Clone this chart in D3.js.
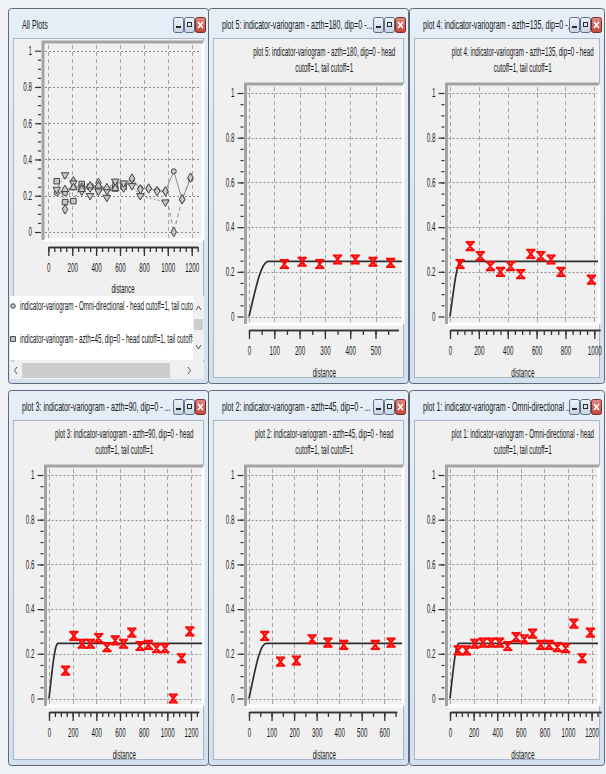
<!DOCTYPE html>
<html>
<head>
<meta charset="utf-8">
<script src="https://cdn.jsdelivr.net/npm/d3@7"></script>
<style>
  html, body { margin: 0; padding: 0; background: #eef1f5; }
  svg { display: block; font-family: "Liberation Sans", Arial, sans-serif; }
</style>
</head>
<body>
<svg id="chart" width="606" height="774"></svg>
<script>
// experimental indicator variograms: lag distance / gamma, one pair per direction
const lagOmni = [70, 140, 210, 280, 350, 420, 490, 560, 630, 700, 770, 840, 910, 980, 1050, 1120, 1190];
const gamOmni = [0.215, 0.215, 0.245, 0.25, 0.25, 0.25, 0.235, 0.275, 0.265, 0.29, 0.24, 0.24, 0.23, 0.225, 0.335, 0.18, 0.295];
const lag45 = [70, 140, 210, 280, 350, 420, 560, 630];
const gam45 = [0.28, 0.165, 0.17, 0.265, 0.25, 0.24, 0.24, 0.25];
const lag90 = [140, 210, 280, 350, 420, 490, 560, 630, 700, 770, 840, 910, 980, 1050, 1120, 1190];
const gam90 = [0.125, 0.28, 0.245, 0.245, 0.27, 0.23, 0.26, 0.245, 0.295, 0.235, 0.24, 0.225, 0.225, 0.0, 0.18, 0.3];
const lag135 = [70, 140, 210, 280, 350, 420, 490, 560, 630, 700, 770, 980];
const gam135 = [0.235, 0.315, 0.27, 0.225, 0.2, 0.225, 0.19, 0.28, 0.27, 0.255, 0.2, 0.165];
const lag180 = [140, 210, 280, 350, 420, 490, 560];
const gam180 = [0.235, 0.245, 0.235, 0.255, 0.255, 0.245, 0.24];

// fitted model (the flat part carries on to the right edge)
const modelLag = [0, 20, 40, 60, 75];
const modelGam = [0, 0.095, 0.18, 0.233, 0.247];

const yTicks = [0, 0.2, 0.4, 0.6, 0.8, 1];
const yLabels = ["0", "0.2", "0.4", "0.6", "0.8", "1"];
const legendLabels = [
  "indicator-variogram - Omni-directional - head cutoff=1, tail cutoff=1",
  "indicator-variogram - azth=45, dip=0 - head cutoff=1, tail cutoff=1"
];

const series = [
  { lag: lagOmni, gam: gamOmni, sym: d3.symbolCircle, size: 20, dash: null },
  { lag: lag45, gam: gam45, sym: d3.symbolSquare, size: 30, dash: "3,2" },
  { lag: lag90, gam: gam90, sym: d3.symbolDiamond, size: 26, dash: "4,3" },
  { lag: lag135, gam: gam135, sym: d3.symbolTriangle, size: 24, dash: "2,2", flip: true },
  { lag: lag180, gam: gam180, sym: d3.symbolTriangle, size: 24, dash: "5,2" }
];

const panels = [
  { x: 8, y: 8, w: 201, win: "All Plots", all: true, ppu: 0.1195, step: 200, end: 1250 },
  { x: 208, y: 8, w: 201, win: "plot 5: indicator-variogram - azth=180, dip=0 -...",
    head: "plot 5: indicator-variogram - azth=180, dip=0 - head", s: 4, ppu: 0.253, step: 100, end: 590 },
  { x: 409, y: 8, w: 196, win: "plot 4: indicator-variogram - azth=135, dip=0 -...",
    head: "plot 4: indicator-variogram - azth=135, dip=0 - head", s: 3, ppu: 0.1443, step: 200, end: 1040 },
  { x: 8, y: 390, w: 201, win: "plot 3:  indicator-variogram - azth=90, dip=0 - ...",
    head: "plot 3: indicator-variogram - azth=90, dip=0 - head", s: 2, ppu: 0.1183, step: 200, end: 1265 },
  { x: 208, y: 390, w: 201, win: "plot 2: indicator-variogram - azth=45, dip=0 - ...",
    head: "plot 2: indicator-variogram - azth=45, dip=0 - head", s: 1, ppu: 0.2255, step: 100, end: 655 },
  { x: 409, y: 390, w: 196, win: "plot 1: indicator-variogram - Omni-directional ...",
    head: "plot 1: indicator-variogram - Omni-directional - head", s: 0, ppu: 0.118, step: 200, end: 1280 }
];

const H = 376;   // window height
const SX = 0.52; // the screenshot is squeezed sideways, so is the text

const svg = d3.select("#chart");
const defs = svg.append("defs");

const tb = defs.append("linearGradient").attr("id", "titlebar").attr("x1", 0).attr("y1", 0).attr("x2", 0).attr("y2", 1);
tb.append("stop").attr("offset", 0).attr("stop-color", "#e6eef8");
tb.append("stop").attr("offset", 1).attr("stop-color", "#d3e0ef");
const bt = defs.append("linearGradient").attr("id", "btn").attr("x1", 0).attr("y1", 0).attr("x2", 0).attr("y2", 1);
bt.append("stop").attr("offset", 0).attr("stop-color", "#eef3f9");
bt.append("stop").attr("offset", 1).attr("stop-color", "#c6d3e3");
const cb = defs.append("linearGradient").attr("id", "close").attr("x1", 0).attr("y1", 0).attr("x2", 0).attr("y2", 1);
cb.append("stop").attr("offset", 0).attr("stop-color", "#e08a80");
cb.append("stop").attr("offset", 1).attr("stop-color", "#c4463b");

function label(g, x, y, str, anchor, size, sx) {
  return g.append("text")
    .attr("transform", "translate(" + x + "," + y + ") scale(" + sx + ",1)")
    .attr("text-anchor", anchor)
    .attr("font-size", size)
    .attr("fill", "#1a1a1a")
    .text(str);
}

function squeeze(sel) {
  sel.selectAll("text").each(function() {
    const t = d3.select(this);
    const x = +t.attr("x") || 0;
    t.attr("x", x / SX).attr("transform", "scale(" + SX + ",1)");
  });
}

function drawWindow(p) {
  const g = svg.append("g").attr("transform", "translate(" + p.x + "," + p.y + ")");
  g.append("rect").attr("x", 0.5).attr("y", 0.5).attr("width", p.w - 1).attr("height", H - 1)
    .attr("rx", 3).attr("fill", "url(#titlebar)").attr("stroke", "#5e6a78");
  g.append("rect").attr("x", 5.5).attr("y", 30.5).attr("width", p.w - 11).attr("height", H - 37)
    .attr("fill", "#f0f0f0").attr("stroke", "#a8b6c7");

  label(g, 14, 20.5, p.win, "start", 13, 0.55);

  // min / max / close buttons
  const bx = p.w - 36;
  g.append("rect").attr("x", bx + 0.5).attr("y", 9.5).attr("width", 10).attr("height", 15).attr("rx", 2)
    .attr("fill", "url(#btn)").attr("stroke", "#5c6f88");
  g.append("rect").attr("x", bx + 3).attr("y", 18).attr("width", 5).attr("height", 2).attr("fill", "#2b2b2b");
  g.append("rect").attr("x", bx + 11.5).attr("y", 9.5).attr("width", 10).attr("height", 15).attr("rx", 2)
    .attr("fill", "url(#btn)").attr("stroke", "#5c6f88");
  g.append("rect").attr("x", bx + 14.5).attr("y", 14.5).attr("width", 4).attr("height", 4)
    .attr("fill", "none").attr("stroke", "#2b2b2b");
  g.append("rect").attr("x", bx + 22.5).attr("y", 9.5).attr("width", 10).attr("height", 15).attr("rx", 2)
    .attr("fill", "url(#close)").attr("stroke", "#7d2c25");
  g.append("path").attr("d", "M" + (bx + 25) + ",14 L" + (bx + 30) + ",20 M" + (bx + 30) + ",14 L" + (bx + 25) + ",20")
    .attr("stroke", "#fff").attr("stroke-width", 1.6);
  return g;
}

function drawPlot(g, p) {
  const L = p.all
    ? { px0: 40.3, y0: 224, y1: 42.7, left: 35, top: 34, bottom: 232, axisY: 239, distY: 285 }
    : { px0: 41, y0: 308.5, y1: 85, left: 37.5, top: 76, bottom: 316, axisY: 322, distY: 369 };
  const right = p.w - 6;

  const x = d3.scaleLinear().domain([0, p.end]).range([L.px0, L.px0 + p.end * p.ppu]);
  const y = d3.scaleLinear().domain([0, 1]).range([L.y0, L.y1]);

  // plot frame: grey top/left, white bottom/right
  g.append("path").attr("d", "M" + right + "," + L.bottom + " L" + right + "," + L.top + " M" + L.left + "," + L.bottom + " L" + right + "," + L.bottom)
    .attr("stroke", "#ffffff").attr("stroke-width", 3).attr("fill", "none");
  g.append("path").attr("d", "M" + L.left + "," + L.bottom + " L" + L.left + "," + L.top + " L" + right + "," + L.top)
    .attr("stroke", "#a3a3a3").attr("stroke-width", 3).attr("fill", "none");

  const majors = d3.range(0, p.end + 1, p.step);
  const minors = d3.range(0, p.end + 1, 50);

  // grid
  g.append("g").selectAll("line").data(yTicks).join("line")
    .attr("x1", L.left + 2).attr("x2", right - 2)
    .attr("y1", d => Math.round(y(d)) + 0.5).attr("y2", d => Math.round(y(d)) + 0.5)
    .attr("stroke", "#8e8e8e").attr("stroke-dasharray", "2,2");
  g.append("g").selectAll("line").data(majors.filter(d => x(d) < right - 3)).join("line")
    .attr("x1", d => Math.round(x(d)) + 0.5).attr("x2", d => Math.round(x(d)) + 0.5)
    .attr("y1", L.top + 3).attr("y2", L.bottom - 2)
    .attr("stroke", "#a6a6a6").attr("stroke-dasharray", "4,3");

  // y axis
  const ya = g.append("g").attr("transform", "translate(" + (L.left - 2) + ",0)");
  ya.append("g").call(d3.axisLeft(y).tickValues(d3.range(0.05, 1, 0.05)).tickSize(3).tickFormat(""))
    .call(a => a.select(".domain").remove());
  ya.append("g").call(d3.axisLeft(y).tickValues(yTicks).tickFormat((d, i) => yLabels[i]).tickSize(6).tickPadding(3))
    .call(a => a.select(".domain").remove())
    .call(squeeze);
  ya.selectAll("line").attr("stroke", "#333").attr("stroke-width", 1.2);
  ya.selectAll("text").attr("font-size", 12).attr("fill", "#1a1a1a");

  // x axis: separate strip under the plot
  const xa = g.append("g").attr("transform", "translate(0," + L.axisY + ")");
  xa.append("g").call(d3.axisBottom(x).tickValues(minors).tickSize(5).tickSizeOuter(0).tickFormat(""));
  xa.append("g").call(d3.axisBottom(x).tickValues(majors).tickSize(9).tickSizeOuter(0).tickPadding(7)
      .tickFormat(d3.format("d")))
    .call(squeeze);
  xa.selectAll("path, line").attr("stroke", "#333").attr("stroke-width", 1.3);
  xa.selectAll("text").attr("font-size", 12).attr("fill", "#1a1a1a");
  label(g, (L.left + right) / 2, L.distY, "distance", "middle", 12, SX);

  const clipId = "clip" + p.x + "_" + p.y;
  defs.append("clipPath").attr("id", clipId).append("rect")
    .attr("x", L.left + 1).attr("y", L.top + 1).attr("width", right - L.left - 2).attr("height", L.bottom - L.top + 8);
  const plot = g.append("g").attr("clip-path", "url(#" + clipId + ")");

  if (p.all) {
    series.forEach(s => {
      const pts = s.lag.map((d, i) => [d, s.gam[i]]);
      plot.append("path").datum(pts)
        .attr("d", d3.line().x(d => x(d[0])).y(d => y(d[1])))
        .attr("fill", "none").attr("stroke", "#8c8c8c").attr("stroke-width", 1)
        .attr("stroke-dasharray", s.dash);
    });
    series.forEach(s => {
      const pts = s.lag.map((d, i) => [d, s.gam[i]]);
      plot.append("g").selectAll("path").data(pts).join("path")
        .attr("d", d3.symbol().type(s.sym).size(s.size))
        .attr("transform", d => "translate(" + x(d[0]) + "," + y(d[1]) + ")" + (s.flip ? " rotate(180)" : ""))
        .attr("fill", "#c8c8c8").attr("stroke", "#444").attr("stroke-width", 1);
    });
  } else {
    label(g, (L.left + right) / 2, 48, p.head, "middle", 12.5, 0.5);
    label(g, (L.left + right) / 2, 64, "cutoff=1, tail cutoff=1", "middle", 12.5, 0.5);

    const model = modelLag.map((d, i) => [d, modelGam[i]]);
    model.push([p.end + 50, modelGam[modelGam.length - 1]]);
    plot.append("path").datum(model)
      .attr("d", d3.line().x(d => x(d[0])).y(d => y(d[1])).curve(d3.curveMonotoneX))
      .attr("fill", "none").attr("stroke", "#2e2e2e").attr("stroke-width", 1.7);

    // red "x" markers with little caps, as the program draws them
    const s = series[p.s];
    plot.append("g").selectAll("path").data(s.lag.map((d, i) => [d, s.gam[i]])).join("path")
      .attr("d", "M-3,-4 L3,4 M3,-4 L-3,4 M-3.5,-4 H3.5 M-3.5,4 H3.5")
      .attr("transform", d => "translate(" + x(d[0]) + "," + y(d[1]) + ")")
      .attr("fill", "none").attr("stroke", "#ff0a0a").attr("stroke-width", 2.2)
      .attr("stroke-linecap", "square");
  }
}

function drawLegend(g) {
  const box = g.append("g");
  box.append("rect").attr("x", 2).attr("y", 288).attr("width", 194).attr("height", 64).attr("fill", "#ffffff");
  defs.append("clipPath").attr("id", "legclip").append("rect").attr("x", 2).attr("y", 288).attr("width", 183).attr("height", 64);
  const items = box.append("g").attr("clip-path", "url(#legclip)");
  legendLabels.forEach((t, i) => {
    const s = series[i];
    const yy = 298 + i * 33;
    items.append("path").attr("d", d3.symbol().type(s.sym).size(s.size * 0.8))
      .attr("transform", "translate(5," + yy + ")")
      .attr("fill", "#c8c8c8").attr("stroke", "#444");
    label(items, 12, yy + 4, t, "start", 12.5, 0.5);
  });
  // vertical scroll bar
  box.append("rect").attr("x", 185).attr("y", 288).attr("width", 11).attr("height", 64).attr("fill", "#f0f0f0");
  box.append("rect").attr("x", 186).attr("y", 311).attr("width", 9).attr("height", 11).attr("fill", "#cdcdcd");
  box.append("path").attr("d", "M188,302 L190.5,298 L193,302").attr("fill", "none").attr("stroke", "#555");
  box.append("path").attr("d", "M188,337 L190.5,341 L193,337").attr("fill", "none").attr("stroke", "#555");
  // horizontal scroll bar
  box.append("rect").attr("x", 2).attr("y", 354).attr("width", 194).attr("height", 17).attr("fill", "#f0f0f0");
  box.append("rect").attr("x", 14).attr("y", 355).attr("width", 148).attr("height", 15).attr("fill", "#cdcdcd");
  box.append("path").attr("d", "M9,359 L6.5,362.5 L9,366").attr("fill", "none").attr("stroke", "#555");
  box.append("path").attr("d", "M180,359 L182.5,362.5 L180,366").attr("fill", "none").attr("stroke", "#555");
}

panels.forEach(p => {
  const g = drawWindow(p);
  drawPlot(g, p);
  if (p.all) drawLegend(g);
});
</script>
</body>
</html>
